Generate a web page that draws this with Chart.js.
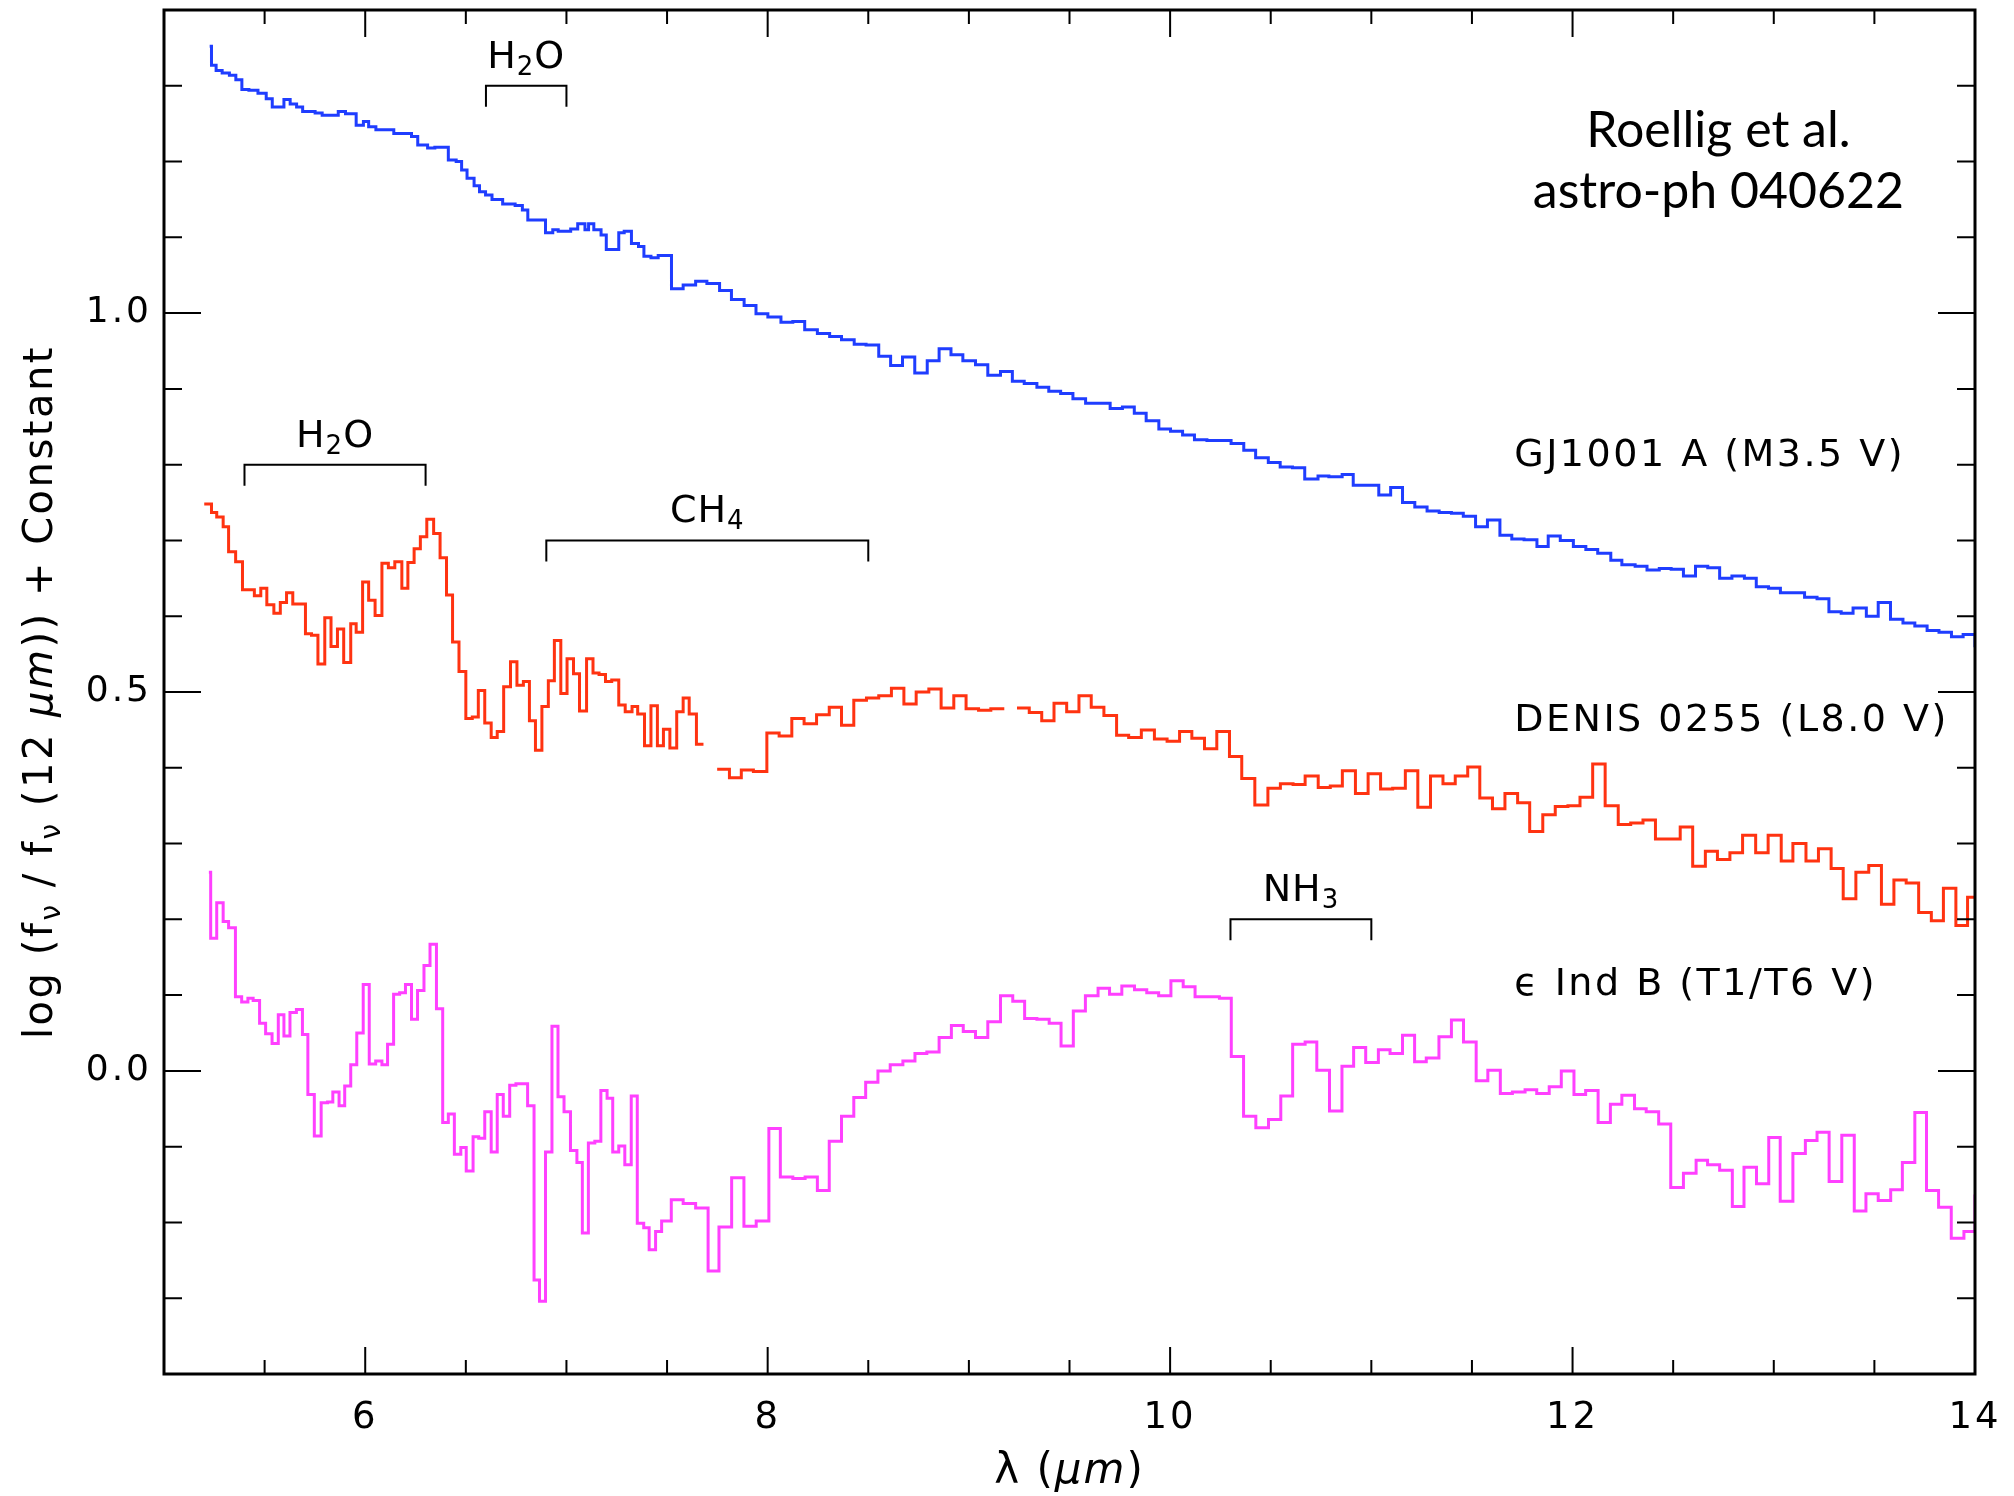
<!DOCTYPE html>
<html>
<head>
<meta charset="utf-8">
<script src="https://cdn.jsdelivr.net/npm/chart.js@4.4.1/dist/chart.umd.min.js"></script>
<style>
  html, body { margin: 0; padding: 0; background: #fff; }
  #wrap { width: 2014px; height: 1496px; }
</style>
</head>
<body>
<div id="wrap"><canvas id="chart" width="2014" height="1496"></canvas></div>
<script>
// step edges (micron) and log flux for each spectrum
const gjWave = [
  5.227, 5.236, 5.259, 5.289, 5.325, 5.357, 5.387, 5.422, 5.467, 5.508,
  5.538, 5.596, 5.627, 5.659, 5.689, 5.751, 5.786, 5.866, 5.902, 5.955,
  5.991, 6.017, 6.053, 6.142, 6.230, 6.261, 6.310, 6.346, 6.413, 6.452,
  6.479, 6.506, 6.541, 6.568, 6.598, 6.630, 6.683, 6.745, 6.781, 6.808,
  6.896, 6.932, 6.959, 7.021, 7.056, 7.092, 7.110, 7.136, 7.172, 7.198,
  7.260, 7.287, 7.323, 7.358, 7.385, 7.420, 7.456, 7.522, 7.580, 7.642,
  7.698, 7.761, 7.820, 7.883, 7.942, 8.001, 8.066, 8.125, 8.184, 8.247,
  8.308, 8.367, 8.430, 8.489, 8.552, 8.611, 8.670, 8.731, 8.793, 8.852,
  8.911, 8.970, 9.033, 9.094, 9.157, 9.216, 9.275, 9.338, 9.397, 9.456,
  9.517, 9.580, 9.639, 9.702, 9.763, 9.822, 9.881, 9.944, 10.002, 10.062,
  10.121, 10.183, 10.242, 10.303, 10.366, 10.425, 10.488, 10.547, 10.608, 10.669,
  10.735, 10.789, 10.855, 10.910, 10.975, 11.037, 11.096, 11.155, 11.216, 11.277,
  11.337, 11.398, 11.457, 11.518, 11.577, 11.639, 11.698, 11.759, 11.823, 11.879,
  11.939, 12.004, 12.066, 12.125, 12.190, 12.245, 12.311, 12.370, 12.431, 12.490,
  12.551, 12.611, 12.672, 12.731, 12.792, 12.854, 12.913, 12.974, 13.033, 13.094,
  13.153, 13.215, 13.274, 13.335, 13.394, 13.460, 13.519, 13.580, 13.642, 13.701,
  13.762, 13.821, 13.883, 13.941, 14.000
];
const gjFlux = [
  1.352, 1.327, 1.320, 1.317, 1.314, 1.308, 1.295, 1.294, 1.290, 1.283,
  1.272, 1.282, 1.276, 1.272, 1.266, 1.264, 1.261, 1.266, 1.263, 1.248,
  1.253, 1.246, 1.242, 1.237, 1.233, 1.222, 1.218, 1.219, 1.202, 1.200,
  1.189, 1.178, 1.168, 1.160, 1.156, 1.150, 1.144, 1.142, 1.136, 1.123,
  1.106, 1.110, 1.108, 1.111, 1.118, 1.110, 1.118, 1.110, 1.103, 1.084,
  1.106, 1.108, 1.092, 1.088, 1.075, 1.073, 1.076, 1.032, 1.037, 1.042,
  1.039, 1.030, 1.018, 1.010, 0.999, 0.995, 0.988, 0.989, 0.978, 0.973,
  0.969, 0.965, 0.959, 0.958, 0.943, 0.931, 0.942, 0.921, 0.937, 0.953,
  0.945, 0.937, 0.932, 0.918, 0.923, 0.910, 0.907, 0.902, 0.897, 0.894,
  0.887, 0.881, 0.881, 0.874, 0.876, 0.868, 0.858, 0.847, 0.844, 0.839,
  0.833, 0.832, 0.832, 0.828, 0.819, 0.809, 0.803, 0.797, 0.796, 0.781,
  0.785, 0.784, 0.787, 0.773, 0.773, 0.760, 0.770, 0.750, 0.744, 0.739,
  0.737, 0.736, 0.732, 0.718, 0.727, 0.707, 0.702, 0.701, 0.692, 0.706,
  0.700, 0.692, 0.688, 0.683, 0.674, 0.668, 0.666, 0.661, 0.663, 0.662,
  0.653, 0.666, 0.664, 0.650, 0.653, 0.650, 0.639, 0.637, 0.631, 0.631,
  0.625, 0.623, 0.606, 0.604, 0.611, 0.600, 0.618, 0.596, 0.591, 0.587,
  0.581, 0.579, 0.573, 0.576, 0.559
];

const denisWave = [
  5.200, 5.236, 5.262, 5.294, 5.321, 5.356, 5.390, 5.449, 5.481, 5.511,
  5.546, 5.578, 5.609, 5.640, 5.703, 5.733, 5.765, 5.799, 5.830, 5.862,
  5.893, 5.928, 5.955, 5.987, 6.017, 6.049, 6.083, 6.115, 6.147, 6.182,
  6.212, 6.243, 6.274, 6.306, 6.340, 6.372, 6.404, 6.434, 6.466, 6.500,
  6.532, 6.562, 6.594, 6.626, 6.656, 6.688, 6.722, 6.754, 6.786, 6.816,
  6.846, 6.878, 6.910, 6.940, 6.972, 7.003, 7.035, 7.065, 7.100, 7.132,
  7.162, 7.194, 7.225, 7.260, 7.292, 7.326, 7.354, 7.388, 7.420, 7.452,
  7.482, 7.514, 7.548, 7.580, 7.610, 7.646, 7.681, 7.700, 7.749, 7.810,
  7.869, 7.929, 7.996, 8.057, 8.120, 8.181, 8.243, 8.306, 8.367, 8.428,
  8.491, 8.552, 8.615, 8.677, 8.738, 8.801, 8.862, 8.925, 8.986, 9.048,
  9.109, 9.176, 9.200, 9.239, 9.300, 9.362, 9.423, 9.486, 9.547, 9.608,
  9.671, 9.734, 9.794, 9.857, 9.922, 9.985, 10.047, 10.108, 10.171, 10.232,
  10.295, 10.356, 10.421, 10.486, 10.548, 10.611, 10.671, 10.736, 10.796, 10.856,
  10.921, 10.984, 11.046, 11.106, 11.169, 11.231, 11.294, 11.356, 11.417, 11.479,
  11.539, 11.602, 11.664, 11.727, 11.787, 11.852, 11.914, 11.977, 12.037, 12.100,
  12.162, 12.227, 12.289, 12.350, 12.412, 12.475, 12.535, 12.597, 12.660, 12.720,
  12.782, 12.845, 12.910, 12.972, 13.037, 13.095, 13.160, 13.222, 13.285, 13.345,
  13.408, 13.472, 13.535, 13.597, 13.658, 13.720, 13.783, 13.843, 13.905, 13.963,
  14.000
];
const denisFlux = [
  0.748, 0.737, 0.731, 0.718, 0.685, 0.672, 0.635, 0.627, 0.637, 0.615,
  0.604, 0.618, 0.631, 0.616, 0.577, 0.575, 0.537, 0.598, 0.560, 0.583,
  0.539, 0.590, 0.579, 0.645, 0.621, 0.601, 0.670, 0.664, 0.672, 0.637,
  0.671, 0.689, 0.705, 0.728, 0.709, 0.677, 0.628, 0.566, 0.527, 0.465,
  0.467, 0.502, 0.459, 0.440, 0.448, 0.507, 0.540, 0.509, 0.514, 0.462,
  0.423, 0.481, 0.515, 0.568, 0.498, 0.544, 0.524, 0.475, 0.544, 0.525,
  0.523, 0.514, 0.516, 0.483, 0.474, 0.481, 0.471, 0.429, 0.482, 0.429,
  0.451, 0.426, 0.474, 0.492, 0.471, 0.431, 0.431, null, 0.398, 0.387,
  0.397, 0.395, 0.446, 0.442, 0.465, 0.458, 0.470, 0.480, 0.456, 0.489,
  0.492, 0.495, 0.505, 0.484, 0.500, 0.504, 0.479, 0.495, 0.478, 0.476,
  0.478, 0.478, null, 0.479, 0.473, 0.462, 0.485, 0.474, 0.495, 0.480,
  0.469, 0.443, 0.440, 0.450, 0.438, 0.435, 0.448, 0.439, 0.425, 0.448,
  0.415, 0.386, 0.351, 0.373, 0.379, 0.378, 0.389, 0.374, 0.376, 0.396,
  0.366, 0.392, 0.372, 0.373, 0.396, 0.348, 0.389, 0.379, 0.389, 0.401,
  0.360, 0.346, 0.366, 0.354, 0.316, 0.338, 0.349, 0.350, 0.361, 0.405,
  0.350, 0.325, 0.327, 0.331, 0.306, 0.306, 0.322, 0.270, 0.290, 0.279,
  0.288, 0.311, 0.288, 0.311, 0.277, 0.300, 0.277, 0.293, 0.267, 0.227,
  0.262, 0.271, 0.220, 0.252, 0.248, 0.209, 0.198, 0.241, 0.192, 0.229,
  0.229
];

const epsWave = [
  5.223, 5.232, 5.262, 5.294, 5.321, 5.355, 5.386, 5.417, 5.443, 5.475,
  5.505, 5.537, 5.568, 5.596, 5.626, 5.658, 5.688, 5.715, 5.747, 5.781,
  5.813, 5.839, 5.870, 5.898, 5.928, 5.958, 5.990, 6.020, 6.052, 6.083,
  6.111, 6.141, 6.171, 6.200, 6.230, 6.260, 6.292, 6.322, 6.354, 6.385,
  6.413, 6.443, 6.475, 6.502, 6.536, 6.564, 6.594, 6.626, 6.656, 6.686,
  6.718, 6.749, 6.807, 6.839, 6.866, 6.896, 6.928, 6.958, 6.988, 7.020,
  7.052, 7.079, 7.109, 7.141, 7.171, 7.202, 7.230, 7.260, 7.290, 7.322,
  7.352, 7.384, 7.411, 7.443, 7.473, 7.521, 7.580, 7.642, 7.704, 7.758,
  7.821, 7.882, 7.943, 8.006, 8.063, 8.125, 8.186, 8.247, 8.306, 8.367,
  8.428, 8.487, 8.548, 8.609, 8.672, 8.732, 8.791, 8.852, 8.913, 8.972,
  9.033, 9.094, 9.157, 9.218, 9.277, 9.338, 9.399, 9.458, 9.519, 9.579,
  9.642, 9.699, 9.760, 9.823, 9.884, 9.943, 10.004, 10.065, 10.124, 10.185,
  10.245, 10.304, 10.365, 10.426, 10.489, 10.550, 10.609, 10.671, 10.729, 10.792,
  10.854, 10.912, 10.972, 11.035, 11.093, 11.155, 11.215, 11.273, 11.336, 11.398,
  11.458, 11.521, 11.579, 11.641, 11.701, 11.764, 11.822, 11.884, 11.944, 12.007,
  12.065, 12.127, 12.188, 12.245, 12.308, 12.366, 12.428, 12.488, 12.551, 12.614,
  12.671, 12.731, 12.794, 12.852, 12.914, 12.975, 13.032, 13.095, 13.157, 13.215,
  13.275, 13.338, 13.400, 13.458, 13.519, 13.581, 13.639, 13.701, 13.759, 13.819,
  13.882, 13.945, 14.000
];
const epsFlux = [
  0.262, 0.175, 0.222, 0.197, 0.189, 0.098, 0.091, 0.096, 0.093, 0.063,
  0.049, 0.036, 0.074, 0.046, 0.077, 0.081, 0.048, -0.031, -0.086, -0.042,
  -0.041, -0.028, -0.046, -0.020, 0.008, 0.050, 0.114, 0.009, 0.013, 0.008,
  0.035, 0.101, 0.103, 0.114, 0.068, 0.106, 0.139, 0.167, 0.082, -0.068,
  -0.057, -0.110, -0.101, -0.132, -0.087, -0.089, -0.054, -0.107, -0.031, -0.060,
  -0.019, -0.017, -0.046, -0.276, -0.304, -0.107, 0.059, -0.034, -0.054, -0.105,
  -0.121, -0.214, -0.095, -0.093, -0.026, -0.036, -0.107, -0.099, -0.124, -0.033,
  -0.201, -0.207, -0.236, -0.212, -0.198, -0.170, -0.175, -0.181, -0.264, -0.206,
  -0.141, -0.205, -0.198, -0.076, -0.140, -0.142, -0.140, -0.158, -0.093, -0.060,
  -0.035, -0.015, 0.000, 0.008, 0.013, 0.023, 0.025, 0.044, 0.060, 0.052,
  0.044, 0.065, 0.099, 0.092, 0.069, 0.068, 0.063, 0.033, 0.079, 0.099,
  0.109, 0.101, 0.112, 0.107, 0.103, 0.099, 0.119, 0.111, 0.098, 0.098,
  0.096, 0.019, -0.060, -0.075, -0.064, -0.033, 0.035, 0.038, 0.001, -0.053,
  0.006, 0.031, 0.011, 0.028, 0.023, 0.047, 0.012, 0.017, 0.045, 0.067,
  0.038, -0.013, 0.001, -0.030, -0.028, -0.025, -0.030, -0.021, 0.000, -0.031,
  -0.026, -0.068, -0.044, -0.032, -0.050, -0.054, -0.070, -0.154, -0.135, -0.118,
  -0.124, -0.131, -0.179, -0.127, -0.149, -0.088, -0.172, -0.109, -0.092, -0.081,
  -0.146, -0.085, -0.185, -0.162, -0.171, -0.157, -0.121, -0.055, -0.158, -0.180,
  -0.221, -0.212, -0.163
];

// axes
const xMajorTicks = [6, 8, 10, 12, 14];
const xMinorTicks = [5.5, 6.5, 7, 7.5, 8.5, 9, 9.5, 10.5, 11, 11.5, 12.5, 13, 13.5];
const yMajorTicks = [0.0, 0.5, 1.0];
const yMinorTicks = [-0.3, -0.2, -0.1, 0.1, 0.2, 0.3, 0.4, 0.6, 0.7, 0.8, 0.9, 1.1, 1.2, 1.3];

// absorption band brackets
const bandLabels = ['H2O', 'H2O', 'CH4', 'NH3'];
const bandStart = [6.6, 5.4, 6.9, 10.3];
const bandEnd = [7.0, 6.3, 8.5, 11.0];
const bandLevel = [1.30, 0.80, 0.70, 0.20];

// object names, placed at a wavelength / flux position
const objectLabels = ['GJ1001 A (M3.5 V)', 'DENIS 0255 (L8.0 V)', 'ϵ Ind B (T1/T6 V)'];
const objectLabelWave = 11.71;
const objectLabelFlux = [0.798, 0.449, 0.100];

const creditLines = ['Roellig et al.', 'astro-ph 040622'];
const creditWave = 12.725;
const creditFlux = [1.219, 1.139];

const HERSHEY = '"DejaVu Sans"';

function spectrum(wave, flux) {
  return wave.map((w, i) => ({ x: w, y: flux[i] }));
}

function drawRuns(ctx, runs, x, y, align) {
  let total = 0;
  runs.forEach(r => { ctx.font = r.font; r.w = ctx.measureText(r.text).width; total += r.w; });
  let cx = align === 'center' ? x - total / 2 : (align === 'right' ? x - total : x);
  ctx.textAlign = 'left';
  ctx.textBaseline = 'alphabetic';
  runs.forEach(r => { ctx.font = r.font; ctx.fillText(r.text, cx, y + (r.dy || 0)); cx += r.w; });
}

function moleculeRuns(label) {
  return label.split(/(\d+)/).filter(s => s).map(s => /\d/.test(s)
    ? { text: s, font: '26px ' + HERSHEY, dy: 7 }
    : { text: s, font: '38px ' + HERSHEY });
}

// no automatic padding for tick labels: the box must sit exactly where it is in the figure
function noPad(s) {
  s.paddingTop = 0; s.paddingBottom = 0; s.paddingLeft = 0; s.paddingRight = 0;
}

const framePlugin = {
  id: 'frame',
  beforeDraw(chart) { chart.ctx.letterSpacing = '3px'; },
  afterDraw(chart) {
    const { ctx, chartArea: a } = chart;
    const xs = chart.scales.x, ys = chart.scales.y;
    ctx.save();
    ctx.letterSpacing = '0px';
    ctx.strokeStyle = '#000';
    ctx.fillStyle = '#000';

    // inward ticks on all four sides
    ctx.lineWidth = 2;
    ctx.beginPath();
    const xTick = (v, len) => {
      const px = xs.getPixelForValue(v);
      ctx.moveTo(px, a.bottom); ctx.lineTo(px, a.bottom - len);
      ctx.moveTo(px, a.top); ctx.lineTo(px, a.top + len);
    };
    const yTick = (v, len) => {
      const py = ys.getPixelForValue(v);
      ctx.moveTo(a.left, py); ctx.lineTo(a.left + len, py);
      ctx.moveTo(a.right, py); ctx.lineTo(a.right - len, py);
    };
    xMajorTicks.forEach(v => xTick(v, 27));
    xMinorTicks.forEach(v => xTick(v, 14));
    yMajorTicks.forEach(v => yTick(v, 37));
    yMinorTicks.forEach(v => yTick(v, 18));
    ctx.stroke();

    ctx.lineWidth = 3;
    ctx.strokeRect(a.left, a.top, a.right - a.left, a.bottom - a.top);

    // band brackets
    ctx.lineWidth = 2;
    bandLabels.forEach((lab, i) => {
      const x1 = xs.getPixelForValue(bandStart[i]);
      const x2 = xs.getPixelForValue(bandEnd[i]);
      const yb = ys.getPixelForValue(bandLevel[i]);
      ctx.beginPath();
      ctx.moveTo(x1, yb + 21); ctx.lineTo(x1, yb); ctx.lineTo(x2, yb); ctx.lineTo(x2, yb + 21);
      ctx.stroke();
      ctx.letterSpacing = '1px';
      drawRuns(ctx, moleculeRuns(lab), (x1 + x2) / 2, yb - 18, 'center');
    });

    // object names
    ctx.letterSpacing = '2.5px';
    ctx.font = '38px ' + HERSHEY;
    ctx.textAlign = 'left';
    ctx.textBaseline = 'alphabetic';
    objectLabels.forEach((t, i) => {
      ctx.fillText(t, xs.getPixelForValue(objectLabelWave), ys.getPixelForValue(objectLabelFlux[i]));
    });

    // credit
    ctx.letterSpacing = '0px';
    ctx.font = '50px Lato';
    ctx.textAlign = 'center';
    creditLines.forEach((t, i) => {
      ctx.fillText(t, xs.getPixelForValue(creditWave), ys.getPixelForValue(creditFlux[i]));
    });

    // x title
    ctx.letterSpacing = '2px';
    drawRuns(ctx, [
      { text: 'λ (', font: '42px ' + HERSHEY },
      { text: 'μm', font: 'italic 42px ' + HERSHEY },
      { text: ')', font: '42px ' + HERSHEY }
    ], (a.left + a.right) / 2, a.bottom + 109, 'center');

    // y title
    ctx.save();
    ctx.translate(52, (a.top + a.bottom) / 2);
    ctx.rotate(-Math.PI / 2);
    const big = '40px ' + HERSHEY, sub = '28px ' + HERSHEY;
    ctx.letterSpacing = '2.5px';
    drawRuns(ctx, [
      { text: 'log (f', font: big },
      { text: 'ν', font: sub, dy: 8 },
      { text: ' / f', font: big },
      { text: 'ν', font: sub, dy: 8 },
      { text: ' (12 ', font: big },
      { text: 'μm', font: 'italic 40px ' + HERSHEY },
      { text: ')) + Constant', font: big }
    ], 0, 0, 'center');
    ctx.restore();

    ctx.restore();
  }
};

const lineStyle = { borderWidth: 3, stepped: true, pointRadius: 0, fill: false, spanGaps: false };

new Chart(document.getElementById('chart').getContext('2d'), {
  type: 'line',
  data: {
    datasets: [
      Object.assign({ label: 'GJ1001 A', data: spectrum(gjWave, gjFlux), borderColor: '#1f3dff' }, lineStyle),
      Object.assign({ label: 'DENIS 0255', data: spectrum(denisWave, denisFlux), borderColor: '#ff3311' }, lineStyle),
      Object.assign({ label: 'eps Ind B', data: spectrum(epsWave, epsFlux), borderColor: '#ff40ff' }, lineStyle)
    ]
  },
  options: {
    responsive: false,
    animation: false,
    devicePixelRatio: 1,
    layout: { padding: { top: 10, right: 39, left: 0, bottom: 0 } },
    plugins: { legend: { display: false }, tooltip: { enabled: false } },
    scales: {
      x: {
        type: 'linear', min: 5, max: 14,
        grid: { display: false, drawTicks: false },
        border: { display: false },
        afterBuildTicks: s => { s.ticks = xMajorTicks.map(v => ({ value: v })); },
        afterFit: s => { s.height = 122; noPad(s); },
        ticks: { color: '#000', font: { family: 'DejaVu Sans', size: 37 }, padding: 22, maxRotation: 0, autoSkip: false,
                 callback: v => String(v) }
      },
      y: {
        type: 'linear', min: -0.4, max: 1.4,
        grid: { display: false, drawTicks: false },
        border: { display: false },
        afterBuildTicks: s => { s.ticks = yMajorTicks.map(v => ({ value: v })); },
        afterFit: s => { s.width = 164; noPad(s); },
        ticks: { color: '#000', font: { family: 'DejaVu Sans', size: 36 }, padding: 12, autoSkip: false,
                 callback: v => Number(v).toFixed(1) }
      }
    }
  },
  plugins: [framePlugin]
});
</script>
</body>
</html>
